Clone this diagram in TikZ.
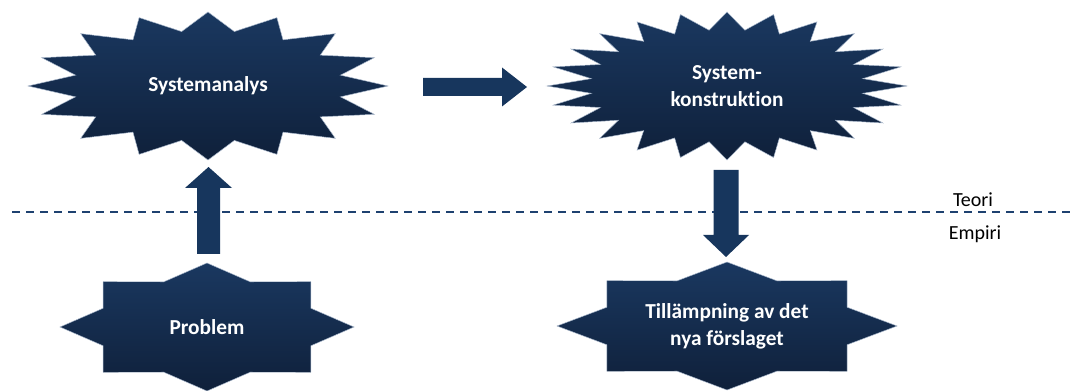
\documentclass[tikz,border=0pt]{standalone}
\usepackage{fontspec}
\setmainfont{Carlito}[Ligatures=NoCommon]
\usetikzlibrary{calc}
\definecolor{navytop}{HTML}{1A3860}
\definecolor{navybot}{HTML}{0F203A}
\definecolor{arrowblue}{HTML}{17365D}
\definecolor{dashblue}{HTML}{1E4170}
\definecolor{rimblue}{HTML}{A9B8CC}
\tikzset{
  burstfill/.style={top color=navytop, bottom color=navybot, draw=rimblue, line width=0.35pt},
  burstlabel/.style={text=white, font=\fontsize{16}{20.5}\selectfont\bfseries, align=center, inner sep=0pt},
  sidelabel/.style={font=\fontsize{15}{18}\selectfont, anchor=base, inner sep=0pt},
  arrowfill/.style={fill=arrowblue},
  divider/.style={draw=dashblue, line width=1.5pt, dash pattern=on 6pt off 4.5pt},
  % block arrow pointing along +x: length, half shaft, half head, head length
  pics/blockarrow/.style n args={4}{code={
    \fill[arrowfill] (0,-#2) -- ({#1-#4},-#2) -- ({#1-#4},-#3) -- (#1,0)
      -- ({#1-#4},#3) -- ({#1-#4},#2) -- (0,#2) -- cycle;}},
}
% star burst: name, centre, rx, ry, last vertex index, inner ratio, label
\newcommand\burst[7]{%
  \begin{scope}[shift={#2}]
    \shade[burstfill] plot[samples at={0,...,#5}]
      ({#3*(1-(1-#6)*mod(\x,2))*cos(90+\x*(360/(#5+1)))},
       {-#4*(1-(1-#6)*mod(\x,2))*sin(90+\x*(360/(#5+1)))}) -- cycle;
  \end{scope}
  \node[burstlabel] (#1) at #2 {#7};
}
\begin{document}
\begin{tikzpicture}[x=0.75pt,y=-0.75pt]
  \useasboundingbox (0,0) rectangle (1073,391);

  % theory / empirics divider
  \coordinate (divL) at (12,212);
  \coordinate (divR) at (1073,212);
  \draw[divider] (divL) -- (divR);
  \node[sidelabel] (teori) at (973,207) {Teori};
  \node[sidelabel] (empiri) at (975,240) {Empiri};

  % shapes
  \burst{analys}{(208,86)}{180}{74}{31}{0.75}{Systemanalys}
  \burst{konstr}{(727,86)}{180}{74}{47}{0.76}{System-\\konstruktion}
  \burst{problem}{(207,327)}{147}{64}{15}{0.765}{Problem}
  \burst{tillamp}{(727,326)}{170}{64}{15}{0.765}{Tillämpning av det\\nya förslaget}

  % block arrows between the shapes
  \pic[rotate=90] at ($(problem.center)+(1.5,-73)$) {blockarrow={87}{11.5}{23.5}{21}};
  \pic at ($(analys.center)+(215,1)$) {blockarrow={104}{9}{19.5}{25}};
  \pic[rotate=-90] at ($(konstr.center)+(-1,84)$) {blockarrow={87}{12.5}{23}{22}};
\end{tikzpicture}
\end{document}
